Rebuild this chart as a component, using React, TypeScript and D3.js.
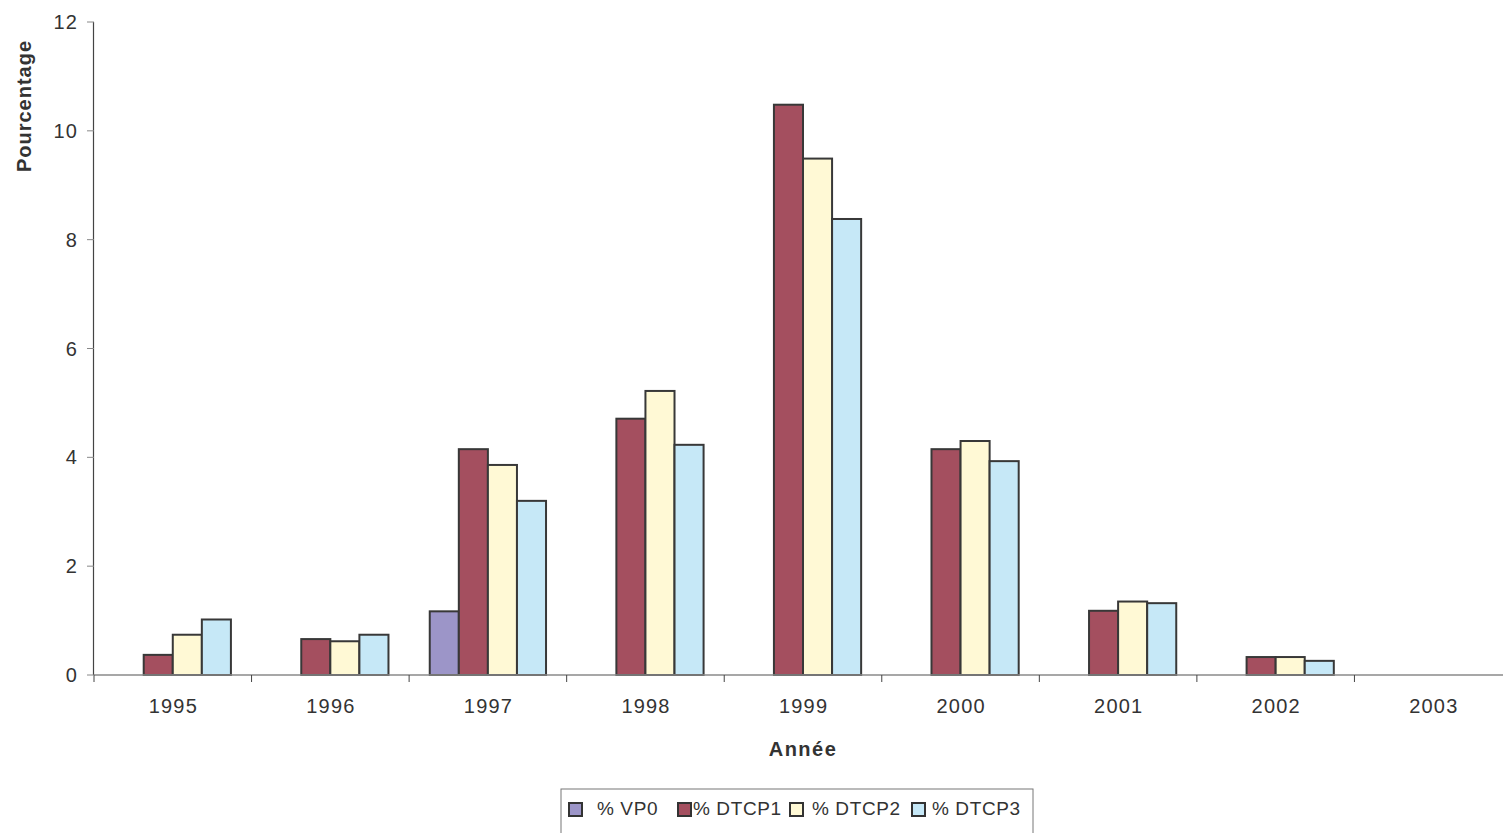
import React from "react";
import * as d3 from "d3";

const years = ["1995", "1996", "1997", "1998", "1999", "2000", "2001", "2002", "2003"];
const seriesNames = ["% VP0", "% DTCP1", "% DTCP2", "% DTCP3"];
const vp0 = [0, 0, 1.17, 0, 0, 0, 0, 0, 0];
const dtcp1 = [0.37, 0.66, 4.15, 4.71, 10.48, 4.15, 1.18, 0.33, 0];
const dtcp2 = [0.74, 0.62, 3.86, 5.22, 9.49, 4.3, 1.35, 0.33, 0];
const dtcp3 = [1.02, 0.74, 3.2, 4.23, 8.38, 3.93, 1.32, 0.26, 0];
const yTicks = [0, 2, 4, 6, 8, 10, 12];
const colors = ["#9c95c8", "#a44f5f", "#fff9d5", "#c6e8f7"];

const seriesValues = [vp0, dtcp1, dtcp2, dtcp3];

export default function App() {
  const W = 1503, H = 833;
  const left = 94, right = 1512, top = 22, bottom = 675;
  const x0 = d3.scaleBand<string>().domain(years).range([left, right]).padding(0);
  const x1 = d3.scaleBand<string>().domain(seriesNames).range([0, x0.bandwidth()]).paddingInner(0).paddingOuter(0.71);
  const y = d3.scaleLinear().domain([0, 12]).range([bottom, top]);
  const font = "Liberation Sans, Arial, Helvetica, sans-serif";
  const txt = "#333";
  const ls = 1.2;

  const legendX = 561, legendY = 789;
  const legendItems = [
    { x: 569, tx: 597 },
    { x: 678, tx: 693 },
    { x: 790, tx: 812 },
    { x: 912, tx: 932 },
  ];

  return (
    <svg width={W} height={H} style={{ position: "absolute", left: 0, top: 0 }} fontFamily={font}>
      <rect x={0} y={0} width={W} height={H} fill="#fff" />
      {/* bars */}
      {years.map((yr, i) => (
        <g key={yr} transform={`translate(${x0(yr)},0)`}>
          {seriesNames.map((s, j) => {
            const v = seriesValues[j][i];
            if (!v) return null;
            return (
              <rect
                key={s}
                x={x1(s)}
                y={y(v)}
                width={x1.bandwidth()}
                height={y(0) - y(v)}
                fill={colors[j]}
                stroke="#383838"
                strokeWidth={2}
              />
            );
          })}
        </g>
      ))}
      {/* x axis */}
      <line x1={left} x2={right} y1={bottom} y2={bottom} stroke="#8a8a8a" strokeWidth={1.5} />
      {years.map((yr) => (
        <line key={"t" + yr} x1={x0(yr)!} x2={x0(yr)!} y1={bottom} y2={bottom + 7} stroke="#444" strokeWidth={1} />
      ))}
      {years.map((yr) => (
        <text key={"l" + yr} x={x0(yr)! + x0.bandwidth() / 2 + ls / 2} y={713} textAnchor="middle" fontSize={20} letterSpacing={ls} fill={txt}>
          {yr}
        </text>
      ))}
      {/* y axis */}
      <line x1={left - 0.5} x2={left - 0.5} y1={top} y2={bottom} stroke="#444" strokeWidth={1.2} />
      {yTicks.map((t) => (
        <g key={"y" + t}>
          <line x1={left - 7} x2={left} y1={y(t)} y2={y(t)} stroke="#888" strokeWidth={1} />
          <text x={77 + ls} y={y(t) + 7} textAnchor="end" fontSize={20} letterSpacing={ls} fill={txt}>
            {t}
          </text>
        </g>
      ))}
      {/* axis titles */}
      <text x={803} y={756} textAnchor="middle" fontSize={20} letterSpacing={1.5} fontWeight="bold" fill={txt}>
        Année
      </text>
      <text
        transform={`translate(31,106) rotate(-90)`}
        textAnchor="middle"
        fontSize={20}
        letterSpacing={1}
        fontWeight="bold"
        fill={txt}
      >
        Pourcentage
      </text>
      {/* legend */}
      <rect x={legendX} y={legendY} width={1033 - legendX} height={50} fill="#fff" stroke="#777" strokeWidth={1} />
      {seriesNames.map((s, j) => (
        <g key={"lg" + s}>
          <rect x={legendItems[j].x} y={803} width={13} height={13} fill={colors[j]} stroke="#333" strokeWidth={2} />
          <text x={legendItems[j].tx} y={815} fontSize={19} letterSpacing={0.6} fill={txt}>
            {s}
          </text>
        </g>
      ))}
    </svg>
  );
}
